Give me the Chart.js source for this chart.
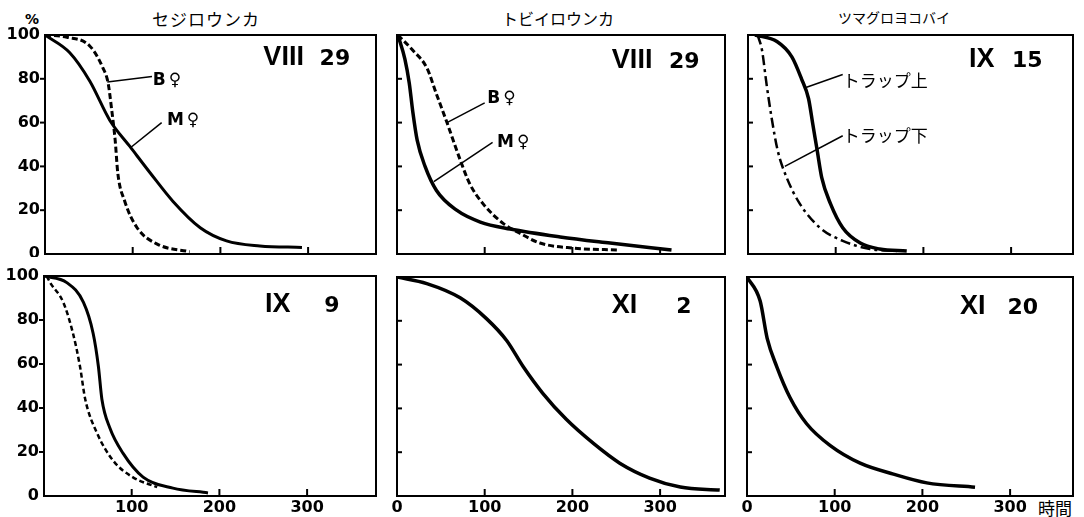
<!DOCTYPE html>
<html>
<head>
<meta charset="utf-8">
<script src="https://cdn.jsdelivr.net/npm/chart.js@4"></script>
<style>
body{margin:0;width:1084px;height:517px;background:#fff;position:relative;overflow:hidden}
.box{position:absolute}
.txt{position:absolute;white-space:nowrap;color:#000;line-height:1;font-family:"Noto Sans CJK JP",sans-serif}
</style>
</head>
<body>
<div class="txt" style="left:152px;top:10px;font-size:17px;letter-spacing:1px">セジロウンカ</div>
<div class="txt" style="left:502px;top:10px;font-size:16px">トビイロウンカ</div>
<div class="txt" style="left:838px;top:10px;font-size:14px">ツマグロヨコバイ</div>
<div class="txt" style="left:25px;top:12px;font-size:14px;font-weight:bold;font-family:'DejaVu Sans'">%</div>
<div class="txt" style="left:1038px;top:499px;font-size:17px">時間</div>

<div class="box" id="b1"><canvas id="c1"></canvas></div>
<div class="box" id="b2"><canvas id="c2"></canvas></div>
<div class="box" id="b3"><canvas id="c3"></canvas></div>
<div class="box" id="b4"><canvas id="c4"></canvas></div>
<div class="box" id="b5"><canvas id="c5"></canvas></div>
<div class="box" id="b6"><canvas id="c6"></canvas></div>

<script>
// hours (t) and surviving % (v)

// セジロウンカ  VIII 29
var p1MT = [0, 28, 51, 74, 97, 120, 146, 177, 207, 245, 293];
var p1MV = [100, 92, 79, 61, 49, 37, 24, 12, 6, 3.7, 3];
var p1BT = [0, 25, 51, 66, 72, 76, 80, 83, 91, 105, 128, 165];
var p1BV = [100, 99, 95, 85, 78, 66, 52, 37, 24, 12, 4.5, 1];

// トビイロウンカ  VIII 29
var p2MT = [1, 9, 14, 18, 23, 32, 45, 68, 95, 129, 186, 243, 313];
var p2MV = [100, 89, 78, 65, 52, 40, 29, 20, 14.6, 11.4, 7.8, 5, 1.8];
var p2BT = [1, 18, 34, 45, 57, 72, 83, 98, 121, 140, 163, 201, 254];
var p2BV = [100, 93, 85, 73, 60, 43, 32, 23, 14, 9.5, 5, 2.7, 1.8];

// ツマグロヨコバイ  IX 15  (trap up / trap down)
var p3UT = [8, 33, 50, 61, 69, 74, 79, 84, 94, 108, 128, 150, 181];
var p3UV = [100, 97, 90, 80, 71, 59, 47, 35, 23, 12, 5, 2.3, 1.4];
var p3DT = [11, 16, 21, 27, 34, 44, 59, 82, 108, 139, 170];
var p3DV = [100, 93, 78, 62, 47, 35, 23, 12, 6, 2.3, 1.4];

// IX 9
var p4MT = [0, 26, 45, 56, 62, 66, 75, 90, 113, 147, 187];
var p4MV = [100, 97, 88, 74, 59, 44, 31, 19.5, 8.6, 3.6, 1.4];
var p4BT = [3, 7, 22, 33, 41, 47, 60, 79, 101, 129];
var p4BV = [100, 97, 88, 74, 59, 44, 29, 16, 8.6, 4];

// XI 2
var p5T = [0, 34, 72, 102, 125, 144, 166, 193, 224, 254, 288, 323, 368];
var p5V = [100, 97, 90.5, 81, 71, 59, 47, 35, 24, 15, 8.2, 4.1, 2.7];

// XI 20
var p6T = [0, 15, 23, 34, 49, 68, 95, 129, 167, 205, 260];
var p6V = [100, 89, 72, 59, 45, 33, 23, 15, 10, 6, 4];

var tickFont = {family: 'DejaVu Sans', weight: 'bold', size: 16};

function ser(t, v, dash, w) {
    return {
        data: t.map(function (x, i) { return {x: x, y: v[i]}; }),
        borderColor: '#000', borderWidth: w, borderDash: dash || [],
        pointRadius: 0, cubicInterpolationMode: 'monotone', fill: false
    };
}

var panels = [
    {L: 45, T: 35, R: 376, B: 254, col: 0, row: 0,
     sets: [ser(p1MT, p1MV, null, 3), ser(p1BT, p1BV, [6, 3], 3)],
     stamp: ['VIII', 249, '29', 348, 86.3],
     notes: [['B♀', 123, 79], ['M♀', 139, 61]],
     leaders: [[71, 78.5, 122, 81], [97, 48.4, 133, 60]]},
    {L: 397, T: 35, R: 725, B: 254, col: 1, row: 0,
     sets: [ser(p2MT, p2MV, null, 3.5), ser(p2BT, p2BV, [6, 3], 3)],
     stamp: ['VIII', 245, '29', 345, 85],
     notes: [['B♀', 103, 71], ['M♀', 114, 51]],
     leaders: [[57, 60, 100, 69], [42, 33, 109, 51]]},
    {L: 748, T: 35, R: 1073, B: 254, col: 2, row: 0,
     sets: [ser(p3UT, p3UV, null, 3.5), ser(p3DT, p3DV, [10, 4, 3, 4], 2.5)],
     stamp: ['IX', 252, '15', 336, 85.4],
     notes: [['トラップ上', 108, 79], ['トラップ下', 108, 54]],
     leaders: [[66, 76, 108, 82], [42, 40, 108, 54]]},
    {L: 44, T: 276, R: 376, B: 496, col: 0, row: 1,
     sets: [ser(p4MT, p4MV, null, 3), ser(p4BT, p4BV, [5, 3], 2.5)],
     stamp: ['IX', 252, '9', 337, 83.6], notes: [], leaders: []},
    {L: 397, T: 277, R: 725, B: 496, col: 1, row: 1,
     sets: [ser(p5T, p5V, null, 3.5)],
     stamp: ['XI', 245, '2', 336, 83.6], notes: [], leaders: []},
    {L: 747, T: 277, R: 1073, B: 496, col: 2, row: 1,
     sets: [ser(p6T, p6V, null, 3.5)],
     stamp: ['XI', 243, '20', 332, 83.2], notes: [], leaders: []}
];

function framePlugin(p) {
    return {
        id: 'frame',
        afterDatasetsDraw: function (chart) {
            var ctx = chart.ctx, a = chart.chartArea, x = chart.scales.x, y = chart.scales.y;
            ctx.save();
            ctx.strokeStyle = '#000';
            ctx.fillStyle = '#000';
            ctx.lineWidth = 2;
            ctx.strokeRect(a.left, a.top, a.width, a.height);
            x.ticks.forEach(function (t) {
                if (t.value <= x.min) return;
                var px = x.getPixelForValue(t.value);
                ctx.beginPath(); ctx.moveTo(px, a.bottom); ctx.lineTo(px, a.bottom - 7); ctx.stroke();
            });
            y.ticks.forEach(function (t) {
                if (t.value <= y.min || t.value >= y.max) return;
                var py = y.getPixelForValue(t.value);
                ctx.beginPath();
                if (p.col == 0) { ctx.moveTo(a.left - 5, py); ctx.lineTo(a.left, py); }
                else { ctx.moveTo(a.left, py); ctx.lineTo(a.left + 5, py); }
                ctx.stroke();
            });
            ctx.lineWidth = 1.5;
            p.leaders.forEach(function (l) {
                ctx.beginPath();
                ctx.moveTo(x.getPixelForValue(l[0]), y.getPixelForValue(l[1]));
                ctx.lineTo(x.getPixelForValue(l[2]), y.getPixelForValue(l[3]));
                ctx.stroke();
            });
            ctx.textBaseline = 'middle';
            ctx.textAlign = 'left';
            p.notes.forEach(function (n) {
                if (/[BM]/.test(n[0])) {
                    ctx.font = 'bold 17px "DejaVu Sans"';
                    ctx.letterSpacing = '3px';
                } else {
                    ctx.font = '17px "Noto Sans CJK JP"';
                    ctx.letterSpacing = '0px';
                }
                ctx.fillText(n[0], x.getPixelForValue(n[1]), y.getPixelForValue(n[2]));
            });
            ctx.letterSpacing = '0px';
            var s = p.stamp;
            ctx.textBaseline = 'alphabetic';
            ctx.font = 'bold 27px "Liberation Sans"';
            ctx.fillText(s[0], x.getPixelForValue(s[1]), y.getPixelForValue(s[4]));
            ctx.textAlign = 'right';
            ctx.font = 'bold 22px "DejaVu Sans"';
            ctx.fillText(s[2], x.getPixelForValue(s[3]), y.getPixelForValue(s[4]));
            ctx.restore();
        }
    };
}

panels.forEach(function (p, i) {
    var pad = 3, padTop = 10;
    var wy = p.col == 0 ? 45 : 14;
    var hx = p.row == 1 ? 24 : 3;
    var box = document.getElementById('b' + (i + 1));
    box.style.left = (p.L - wy) + 'px';
    box.style.top = (p.T - padTop) + 'px';
    box.style.width = (p.R - p.L + wy + pad) + 'px';
    box.style.height = (p.B - p.T + padTop + hx) + 'px';
    var xMax = (p.R - p.L) / 0.877;

    new Chart('c' + (i + 1), {
        type: 'line',
        data: {datasets: p.sets},
        options: {
            responsive: true,
            maintainAspectRatio: false,
            animation: false,
            devicePixelRatio: 1,
            events: [],
            layout: {autoPadding: false, padding: {top: padTop, right: pad, left: 0, bottom: 0}},
            plugins: {legend: {display: false}, tooltip: {enabled: false}},
            scales: {
                x: {
                    type: 'linear', min: 0, max: xMax,
                    afterFit: function (s) { s.height = hx; s.paddingLeft = 0; s.paddingRight = 0; },
                    grid: {display: false, drawTicks: false, tickLength: 0}, border: {display: false},
                    ticks: {
                        stepSize: 100, includeBounds: false, autoSkip: false, maxRotation: 0,
                        display: p.row == 1, font: tickFont, color: '#000', padding: 2,
                        callback: function (v) { return (p.col == 0 && v == 0) ? '' : v; }
                    }
                },
                y: {
                    type: 'linear', min: 0, max: 100,
                    afterFit: function (s) { s.width = wy; s.paddingTop = 0; s.paddingBottom = 0; },
                    grid: {display: false, drawTicks: false, tickLength: 0}, border: {display: false},
                    ticks: {
                        stepSize: 20, includeBounds: false,
                        display: p.col == 0, font: tickFont, color: '#000', padding: 5
                    }
                }
            }
        },
        plugins: [framePlugin(p)]
    });
});
</script>
</body>
</html>
